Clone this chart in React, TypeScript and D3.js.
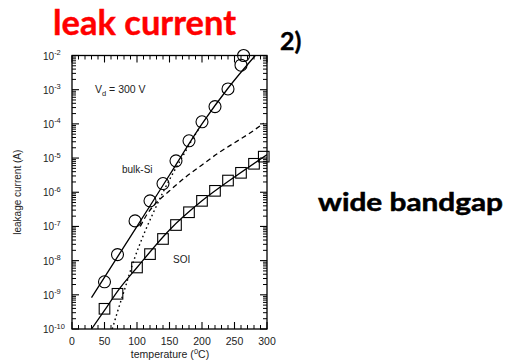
import React from "react";
import * as d3 from "d3";

// bulk-Si measured points (temperature °C, leakage A)
const bulkT = [50, 70, 97, 120, 140, 160, 180, 200, 220, 240, 260, 264];
const bulkI = [2.4e-9, 1.5e-8, 1.45e-7, 5.6e-7, 1.8e-6, 8.3e-6, 3.2e-5, 1.15e-4, 3.2e-4, 1.05e-3, 5.2e-3, 1.0e-2];
// SOI measured points
const soiT = [50, 70, 100, 120, 140, 160, 180, 200, 220, 240, 260, 280, 295];
const soiI = [3.9e-10, 1.07e-9, 6.3e-9, 1.55e-8, 4.3e-8, 1.1e-7, 2.6e-7, 5.6e-7, 1.1e-6, 2.2e-6, 3.7e-6, 6.8e-6, 1.1e-5];
// fitted solid lines
const bulkFitT = [30, 100, 150, 200, 240, 282];
const bulkFitI = [8.3e-10, 1.0e-7, 3.2e-6, 1.0e-4, 1.1e-3, 1.0e-2];
const soiFitT = [30, 50, 70, 100, 150, 200, 250, 300];
const soiFitI = [1e-10, 3.5e-10, 1.26e-9, 6.3e-9, 7.9e-8, 5.6e-7, 2.8e-6, 1.26e-5];
// dotted (diffusion) and dashed curves
const dotT = [62, 70, 80, 95, 110, 125, 140, 155, 170, 185, 200];
const dotI = [1e-10, 3.2e-10, 1.26e-9, 1e-8, 5.6e-8, 2.5e-7, 1e-6, 3.5e-6, 1.1e-5, 3.5e-5, 1e-4];
const dashT = [105, 115, 130, 150, 175, 200, 225, 250, 275, 295];
const dashI = [1e-7, 2.2e-7, 5e-7, 1.1e-6, 2.8e-6, 6.3e-6, 1.4e-5, 2.8e-5, 5.6e-5, 1.05e-4];

const xTicks = [0, 50, 100, 150, 200, 250, 300];
const yExps = [-2, -3, -4, -5, -6, -7, -8, -9, -10];

export default function App() {
  const W = 508, H = 361;
  const x = d3.scaleLinear().domain([0, 300]).range([72, 267]);
  const y = d3.scaleLog().domain([1e-10, 1e-2]).range([329, 55.5]);
  const [x0, x1] = x.range();
  const [yb, yt] = y.range();

  const line = d3
    .line<[number, number]>()
    .x((d) => x(d[0]))
    .y((d) => y(d[1]))
    .curve(d3.curveMonotoneX);
  const zip = (a: number[], b: number[]) => a.map((t, i) => [t, b[i]] as [number, number]);

  const minorX = d3.range(0, 301, 10).filter((v) => v % 50 !== 0);
  const minorY: number[] = [];
  for (let e = -10; e < -2; e++) for (let m = 2; m <= 9; m++) minorY.push(m * Math.pow(10, e));

  const font = "'Liberation Sans', Arial, sans-serif";
  const big = "Lato, 'Open Sans', sans-serif";

  return (
    <svg width={W} height={H} style={{ position: "absolute", left: 0, top: 0, background: "#fff" }}>
      <defs>
        <clipPath id="plot">
          <rect x={x0} y={yt} width={x1 - x0} height={yb - yt} />
        </clipPath>
      </defs>
      <text x={53} y={35} fontFamily={big} fontWeight={700} fontSize={34} fill="#ff0000" stroke="#ff0000" strokeWidth={0.4} textLength={183} lengthAdjust="spacingAndGlyphs">
        leak current
      </text>
      <text x={280} y={50} fontFamily={big} fontWeight={700} fontSize={25} fill="#000" stroke="#000" strokeWidth={0.4}>
        2)
      </text>
      <text x={318} y={211} fontFamily={big} fontWeight={700} fontSize={24} fill="#000" stroke="#000" strokeWidth={0.5} textLength={185} lengthAdjust="spacingAndGlyphs">
        wide bandgap
      </text>

      {/* frame */}
      <rect x={x0} y={yt} width={x1 - x0} height={yb - yt} fill="none" stroke="#000" strokeWidth={1.3} />

      {/* x ticks */}
      {xTicks.map((t) => (
        <g key={"xt" + t}>
          <line x1={x(t)} x2={x(t)} y1={yb} y2={yb - 7} stroke="#000" strokeWidth={1.1} />
          <line x1={x(t)} x2={x(t)} y1={yt} y2={yt + 7} stroke="#000" strokeWidth={1.1} />
          <text x={x(t)} y={344.5} textAnchor="middle" fontFamily={font} fontSize={10.5} fill="#222">
            {t}
          </text>
        </g>
      ))}
      {minorX.map((t) => (
        <g key={"xm" + t}>
          <line x1={x(t)} x2={x(t)} y1={yb} y2={yb - 4} stroke="#000" strokeWidth={1} />
          <line x1={x(t)} x2={x(t)} y1={yt} y2={yt + 4} stroke="#000" strokeWidth={1} />
        </g>
      ))}

      {/* y ticks */}
      {yExps.map((e) => {
        const v = Math.pow(10, e);
        return (
          <g key={"yt" + e}>
            <line x1={x0} x2={x0 + 7} y1={y(v)} y2={y(v)} stroke="#000" strokeWidth={1.1} />
            <line x1={x1} x2={x1 - 7} y1={y(v)} y2={y(v)} stroke="#000" strokeWidth={1.1} />
            <text x={43} y={y(v) + 4} fontFamily={font} fontSize={10} fill="#222">
              10
              <tspan dy={-4.5} fontSize={7.5}>
                {"-" + -e}
              </tspan>
            </text>
          </g>
        );
      })}
      {minorY.map((v, i) => (
        <g key={"ym" + i}>
          <line x1={x0} x2={x0 + 4} y1={y(v)} y2={y(v)} stroke="#000" strokeWidth={1} />
          <line x1={x1} x2={x1 - 4} y1={y(v)} y2={y(v)} stroke="#000" strokeWidth={1} />
        </g>
      ))}

      {/* axis titles */}
      <text transform={`translate(21,${(yt + yb) / 2}) rotate(-90)`} textAnchor="middle" fontFamily={font} fontSize={10} fill="#222">
        leakage current (A)
      </text>
      <text x={170} y={357.5} textAnchor="middle" fontFamily={font} fontSize={10.5} fill="#222">
        temperature (
        <tspan dy={-4} fontSize={7.5}>0</tspan>
        <tspan dy={4}>C)</tspan>
      </text>

      {/* curves */}
      <g clipPath="url(#plot)" fill="none" stroke="#000">
        <path d={line(zip(bulkFitT, bulkFitI)) || ""} strokeWidth={1.3} />
        <path d={line(zip(soiFitT, soiFitI)) || ""} strokeWidth={1.3} />
        <path d={line(zip(dotT, dotI)) || ""} strokeWidth={1.4} strokeDasharray="1.6 3" />
        <path d={line(zip(dashT, dashI)) || ""} strokeWidth={1.3} strokeDasharray="5 3.5" />
      </g>

      {/* markers */}
      {bulkT.map((t, i) => (
        <circle key={"c" + i} cx={x(t)} cy={y(bulkI[i])} r={6} fill="none" stroke="#000" strokeWidth={1.1} />
      ))}
      {soiT.map((t, i) => (
        <rect key={"s" + i} x={x(soiT[i]) - 5.3} y={y(soiI[i]) - 5.3} width={10.6} height={10.6} fill="none" stroke="#000" strokeWidth={1.1} />
      ))}

      {/* annotations */}
      <text x={95} y={93} fontFamily={font} fontSize={10.5} fill="#222">
        V
        <tspan dy={2.5} fontSize={7.5}>d</tspan>
        <tspan dy={-2.5}> = 300 V</tspan>
      </text>
      <text x={122} y={173} fontFamily={font} fontSize={10} fill="#222">
        bulk-Si
      </text>
      <text x={173} y={263} fontFamily={font} fontSize={10} fill="#222">
        SOI
      </text>
    </svg>
  );
}
